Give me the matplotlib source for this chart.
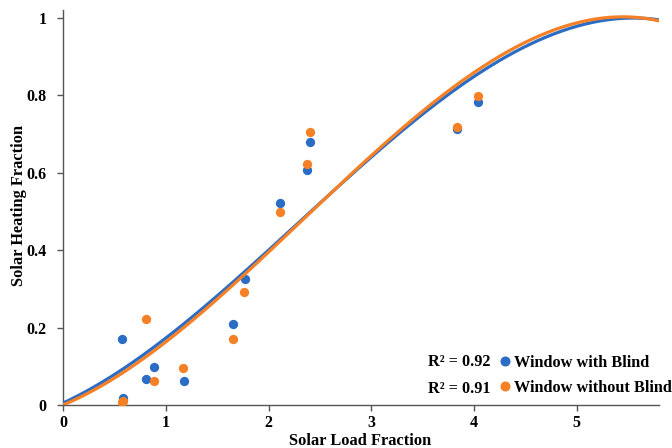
import numpy as np
import matplotlib
matplotlib.use("Agg")
import matplotlib.pyplot as plt
from matplotlib.lines import Line2D

plt.rcParams['font.family'] = ['Liberation Serif', 'DejaVu Serif']
plt.rcParams['font.weight'] = 'bold'

# Data: Window with Blind
blind_x = [0.574, 0.584, 0.807, 0.885, 1.177, 1.654, 1.770, 2.111, 2.374, 2.403, 3.833, 4.037]
blind_y = [0.171, 0.018, 0.067, 0.098, 0.062, 0.209, 0.326, 0.522, 0.607, 0.680, 0.713, 0.783]
# Data: Window without Blind
noblind_x = [0.574, 0.584, 0.807, 0.885, 1.167, 1.654, 1.761, 2.111, 2.374, 2.403, 3.833, 4.037]
noblind_y = [0.008, 0.010, 0.222, 0.062, 0.096, 0.171, 0.292, 0.499, 0.623, 0.705, 0.718, 0.798]

# Polynomial trendline coefficients (order 3, highest first)
blind_poly = [-0.0076537, 0.052653, 0.12281, 0.005]
noblind_poly = [-0.0086566, 0.060589, 0.11095, 0.0]
r2_blind = 0.92
r2_noblind = 0.91

labels = ['Window with Blind', 'Window without Blind']
c_blue = '#2B6CC4'
c_orange = '#F58025'

fig = plt.figure(figsize=(6.72, 4.48), dpi=100)
ax = fig.add_axes([63/672, 1-405/448, (659-63)/672, (405-10)/448])

ax.scatter(blind_x, blind_y, s=45, color=c_blue, zorder=3, linewidths=0)
ax.scatter(noblind_x, noblind_y, s=45, color=c_orange, zorder=3, linewidths=0)

xs = np.linspace(0, 5.8, 300)
ax.plot(xs, np.polyval(blind_poly, xs), color=c_blue, lw=2.3, zorder=4)
ax.plot(xs, np.polyval(noblind_poly, xs), color=c_orange, lw=2.3, zorder=5)

ax.set_xlim(0, 5.8)
ax.set_ylim(0, 1.0207)
ax.set_xticks([0, 1, 2, 3, 4, 5])
ax.set_yticks([0, 0.2, 0.4, 0.6, 0.8, 1.0])
ax.set_xticklabels(['0', '1', '2', '3', '4', '5'])
ax.set_yticklabels(['0', '0.2', '0.4', '0.6', '0.8', '1'])
for s in ['top', 'right']:
    ax.spines[s].set_visible(False)
for s in ['left', 'bottom']:
    ax.spines[s].set_color('#555555')
    ax.spines[s].set_linewidth(1.0)
ax.tick_params(axis='both', direction='out', length=4, width=1, color='#555555',
               labelsize=11.5)
ax.tick_params(axis='x', pad=3)
ax.tick_params(axis='y', pad=8)
for t in ax.get_xticklabels() + ax.get_yticklabels():
    t.set_fontweight('bold')

fig.text(360/672, 1-441/448, 'Solar Load Fraction', ha='center', va='center',
         fontsize=11.8, fontweight='bold')
fig.text(19/672, 1-205/448, 'Solar Heating Fraction', ha='center', va='center',
         rotation=90, fontsize=11.8, fontweight='bold')

handles = [Line2D([], [], marker='o', ls='', color=c_blue, markersize=6.2),
           Line2D([], [], marker='o', ls='', color=c_orange, markersize=6.2)]
leg = ax.legend(handles, labels, loc='center left', frameon=False,
                bbox_to_anchor=(499/672, 1-375.5/448), bbox_transform=fig.transFigure,
                handlelength=0.7, handletextpad=0.25, borderpad=0, borderaxespad=0,
                labelspacing=0.55, prop={'family': 'Liberation Serif', 'weight': 'bold', 'size': 11.7})

fig.text(491/672, 1-362/448, f'R² = {r2_blind:.2f}', ha='right', va='center',
         fontsize=11.7, fontweight='bold')
fig.text(491/672, 1-389/448, f'R² = {r2_noblind:.2f}', ha='right', va='center',
         fontsize=11.7, fontweight='bold')

fig.savefig('out.png', dpi=100)
